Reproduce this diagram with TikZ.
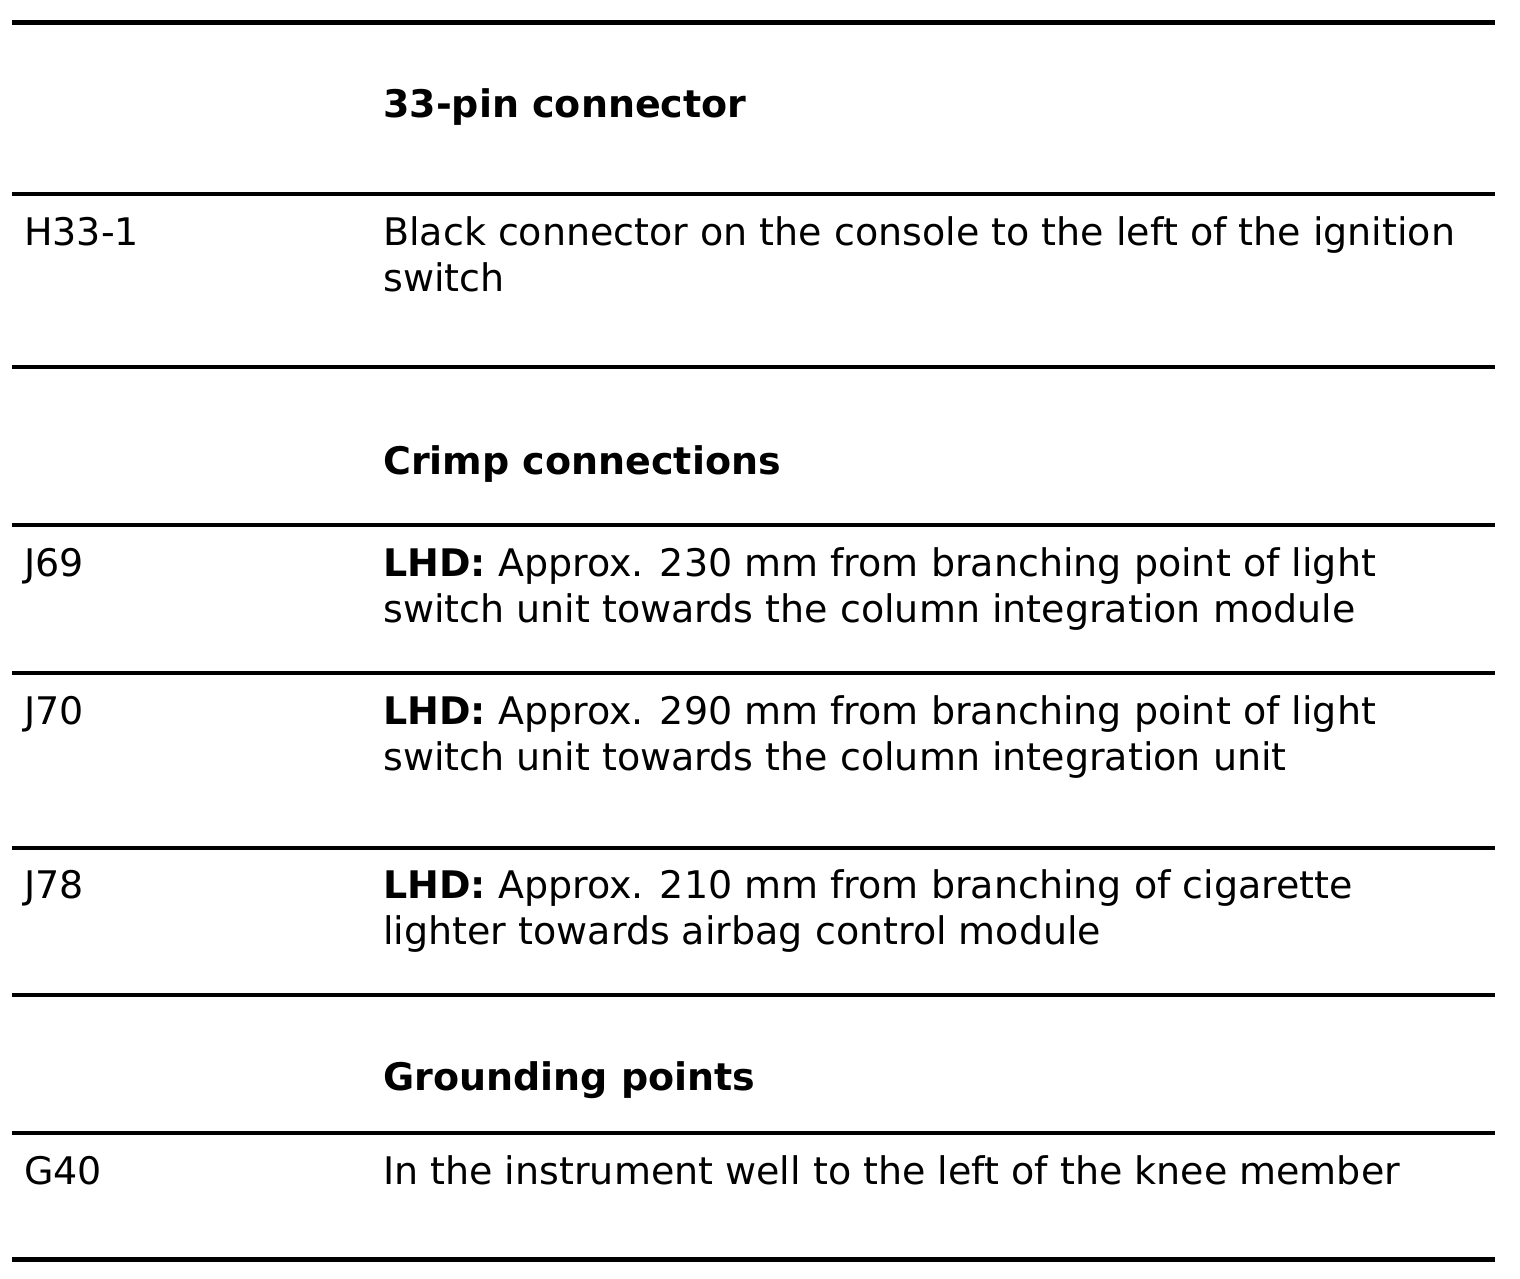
\documentclass[tikz,border=0pt]{standalone}
\usepackage{fontspec}
\setmainfont{DejaVu Sans}
\begin{document}
\begin{tikzpicture}[x=1pt,y=-1pt,
  txt/.style={anchor=base west,inner sep=0pt,font=\fontsize{38}{46}\selectfont},
  hdr/.style={txt,font=\fontsize{38}{46}\selectfont\bfseries},
  rule/.style={line width=4pt},
  thickrule/.style={line width=5pt}]
\useasboundingbox (0,0) rectangle (1520,1278);
% rules
\coordinate (r0a) at (12,22);   \coordinate (r0b) at (1495,22);
\coordinate (r1a) at (12,194);  \coordinate (r1b) at (1495,194);
\coordinate (r2a) at (12,367);  \coordinate (r2b) at (1495,367);
\coordinate (r3a) at (12,525);  \coordinate (r3b) at (1495,525);
\coordinate (r4a) at (12,673);  \coordinate (r4b) at (1495,673);
\coordinate (r5a) at (12,848);  \coordinate (r5b) at (1495,848);
\coordinate (r6a) at (12,995);  \coordinate (r6b) at (1495,995);
\coordinate (r7a) at (12,1133); \coordinate (r7b) at (1495,1133);
\coordinate (r8a) at (12,1259); \coordinate (r8b) at (1495,1259);
\draw[thickrule] (r0a) -- (r0b);
\draw[rule] (r1a) -- (r1b);
\draw[rule] (r2a) -- (r2b);
\draw[rule] (r3a) -- (r3b);
\draw[rule] (r4a) -- (r4b);
\draw[rule] (r5a) -- (r5b);
\draw[rule] (r6a) -- (r6b);
\draw[rule] (r7a) -- (r7b);
\draw[thickrule] (r8a) -- (r8b);
% headers
\node[hdr] (h1) at (383,117) {33-pin connector};
\node[hdr] (h2) at (383,474) {Crimp connections};
\node[hdr] (h3) at (383,1090) {Grounding points};
% rows
\node[txt] (k1) at (24,245) {H33-1};
\node[txt] (d1a) at (383,245) {Black connector on the console to the left of the ignition};
\node[txt] (d1b) at (383,291) {switch};
\node[txt] (k2) at (24,576) {J69};
\node[txt] (d2a) at (383,576) {\textbf{LHD:} Approx. 230 mm from branching point of light};
\node[txt] (d2b) at (383,622) {switch unit towards the column integration module};
\node[txt] (k3) at (24,724) {J70};
\node[txt] (d3a) at (383,724) {\textbf{LHD:} Approx. 290 mm from branching point of light};
\node[txt] (d3b) at (383,770) {switch unit towards the column integration unit};
\node[txt] (k4) at (24,898) {J78};
\node[txt] (d4a) at (383,898) {\textbf{LHD:} Approx. 210 mm from branching of cigarette};
\node[txt] (d4b) at (383,944) {lighter towards airbag control module};
\node[txt] (k5) at (24,1184) {G40};
\node[txt] (d5a) at (383,1184) {In the instrument well to the left of the knee member};
\end{tikzpicture}
\end{document}
